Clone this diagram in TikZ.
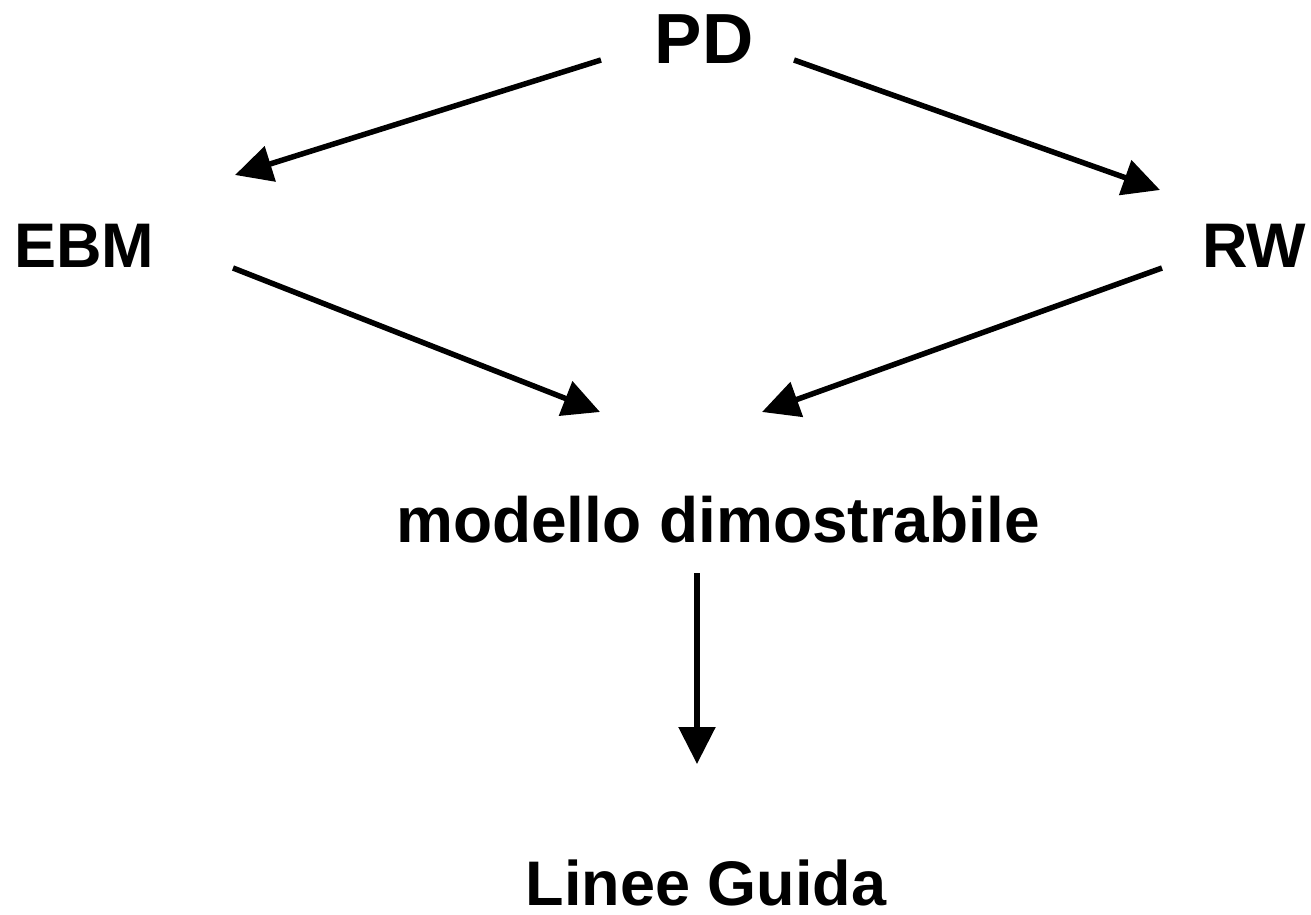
\documentclass[tikz,border=0pt]{standalone}
\usepackage{fontspec}
\setmainfont{Liberation Sans}
\usetikzlibrary{arrows.meta}
\begin{document}
\begin{tikzpicture}[x=1pt,y=-1pt,
  lbl/.style={font=\bfseries\fontsize{63}{70}\selectfont, inner sep=0pt, anchor=base, text depth=0pt},
  arr/.style={line width=5.5pt, -{Triangle[length=37pt,width=36pt]}}]
\useasboundingbox (0,0) rectangle (1311,915);
\node[lbl, font=\bfseries\fontsize{71}{78}\selectfont] (pd) at (704,64) {PD};
\node[lbl] (ebm) at (84,267) {EBM};
\node[lbl] (rw) at (1254,267) {RW};
\node[lbl, font=\bfseries\fontsize{64}{70}\selectfont] (mod) at (718,542) {modello dimostrabile};
\node[lbl] (lg) at (706,905) {Linee Guida};
\coordinate (a1s) at (601,60);  \coordinate (a1e) at (235,175);
\coordinate (a2s) at (794,60);  \coordinate (a2e) at (1160,190);
\coordinate (a3s) at (233,268); \coordinate (a3e) at (600,412);
\coordinate (a4s) at (1162,268);\coordinate (a4e) at (762,412);
\coordinate (a5s) at (697,573); \coordinate (a5e) at (697,764);
\draw[arr] (a1s) -- (a1e);
\draw[arr] (a2s) -- (a2e);
\draw[arr] (a3s) -- (a3e);
\draw[arr] (a4s) -- (a4e);
\draw[arr] (a5s) -- (a5e);
\end{tikzpicture}
\end{document}
